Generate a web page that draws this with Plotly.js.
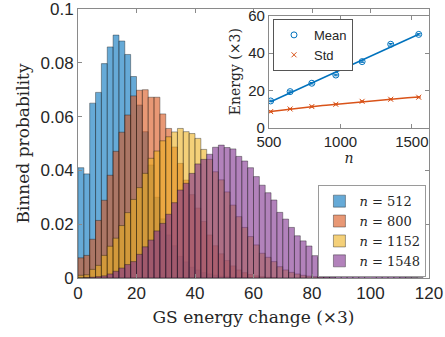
<!DOCTYPE html>
<html><head><meta charset="utf-8">
<script src="https://cdn.plot.ly/plotly-3.0.1.min.js"></script>
<style>html,body{margin:0;padding:0;background:#fff}#plot{width:445px;height:337px}</style>
</head><body><div id="plot"></div>
<script>
// ---- histogram data (binned probability, bins of width 2 starting at 0) ----
const binStart = 0;
const binWidth = 2;
const seriesNames = ['512', '800', '1152', '1548'];
const p512 = [0.041,0.0387,0.065,0.069,0.0797,0.0859,0.0903,0.0881,0.0831,0.0749,
  0.0643,0.0544,0.042,0.030,0.022,0.016,0.012,0.008,0.006,0.004,
  0.003,0.002,0.0015,0.001,0.0007,0.0005,0.0003,0.0002,0.0001,0.0001];
const p800 = [0.0075,0.0084,0.0144,0.0214,0.0289,0.0382,0.0471,0.0542,0.0606,0.0677,
  0.0698,0.0700,0.0672,0.0672,0.061,0.0556,0.0487,0.0426,0.0364,0.031,
  0.026,0.021,0.016,0.012,0.009,0.0065,0.0045,0.003,0.002,0.0013,
  0.0008,0.0005,0.0003,0.0002];
const p1152 = [0.001,0.0012,0.0032,0.0047,0.0084,0.0118,0.0148,0.0195,0.0243,0.0292,
  0.0336,0.0389,0.0445,0.0472,0.051,0.0525,0.0543,0.0556,0.0544,0.0537,
  0.0519,0.0478,0.0441,0.0395,0.0365,0.032,0.0271,0.0228,0.0188,0.0154,
  0.0123,0.0092,0.0077,0.0061,0.0042,0.003,0.0021,0.0015,0.001,0.0007,
  0.0005,0.0003,0.0002,0.0001];
const p1548 = [0,0.0002,0.0003,0.0005,0.0008,0.0015,0.0025,0.0037,0.005,0.0061,
  0.0088,0.0116,0.0141,0.0175,0.0203,0.0237,0.028,0.0327,0.0352,0.0389,
  0.0424,0.0441,0.046,0.0486,0.0494,0.0485,0.048,0.0452,0.0435,0.041,
  0.0377,0.0345,0.0317,0.029,0.0244,0.0219,0.0188,0.0157,0.0138,0.0119,
  0.0083,0.0077,0.0065,0.0055,0.0046,0.0038,0.0031,0.0025,0.002,0.0016,
  0.0013,0.001,0.0008,0.0006,0.0005,0.0004,0.0003,0.0002,0.0001];

// ---- inset data ----
const nVals = [512, 648, 800, 968, 1152, 1352, 1548];
const meanE = [14.3, 19.3, 23.8, 28.2, 35.4, 44.7, 50.0];
const meanErr = [0.4, 0.4, 0.4, 0.4, 0.4, 0.4, 0.4];
const stdE = [8.6, 10.0, 11.3, 12.5, 14.1, 15.2, 16.3];
const stdErr = [0.3, 0.3, 0.3, 0.3, 0.3, 0.3, 0.3];

const histSeries = [p512, p800, p1152, p1548];
const fillColors = ['rgba(0,114,189,0.6)','rgba(217,83,25,0.6)','rgba(237,177,32,0.6)','rgba(126,47,142,0.6)'];
const MBLUE = '#0072BD', MORANGE = '#D95319';
const serif = 'DejaVu Serif, serif';
const sans = 'Liberation Sans, Arial, sans-serif';
const axColor = '#8a8a8a';
const txtColor = '#262626';

const traces = [];
histSeries.forEach((vals, k) => {
  traces.push({
    type: 'bar',
    x: vals.map((_, i) => binStart + binWidth * (i + 0.5)),
    y: vals,
    width: binWidth,
    name: '<i>n</i> = ' + seriesNames[k],
    marker: {color: fillColors[k], line: {color: 'rgba(20,20,20,0.65)', width: 0.6}},
    legend: 'legend',
    hoverinfo: 'skip'
  });
});

// least-squares fits for inset
function linFit(xs, ys) {
  const n = xs.length;
  const mx = xs.reduce((a,b)=>a+b,0)/n, my = ys.reduce((a,b)=>a+b,0)/n;
  let sxy = 0, sxx = 0;
  for (let i=0;i<n;i++){ sxy += (xs[i]-mx)*(ys[i]-my); sxx += (xs[i]-mx)**2; }
  const b = sxy/sxx; return {a: my - b*mx, b: b};
}
const nMin = Math.min(...nVals), nMax = Math.max(...nVals);
const fitN = [];
for (let i = 0; i <= 40; i++) fitN.push(nMin + (nMax - nMin) * i / 40);
const lf = linFit(nVals, meanE);
const pf = linFit(nVals.map(Math.log), stdE.map(Math.log));

traces.push({type:'scatter', mode:'lines', x: fitN, y: fitN.map(n => lf.a + lf.b*n),
  xaxis:'x2', yaxis:'y2', line:{color: MBLUE, width:1.5}, showlegend:false, hoverinfo:'skip'});
traces.push({type:'scatter', mode:'lines', x: fitN, y: fitN.map(n => Math.exp(pf.a) * Math.pow(n, pf.b)),
  xaxis:'x2', yaxis:'y2', line:{color: MORANGE, width:1.5}, showlegend:false, hoverinfo:'skip'});
traces.push({type:'scatter', mode:'markers', x: nVals, y: meanE, name:'Mean',
  error_y:{type:'data', array: meanErr, color: MBLUE, thickness:1, width:2},
  xaxis:'x2', yaxis:'y2', legend:'legend2',
  marker:{symbol:'circle-open', size:6, color: MBLUE, line:{width:1}}});
traces.push({type:'scatter', mode:'markers', x: nVals, y: stdE, name:'Std',
  error_y:{type:'data', array: stdErr, color: MORANGE, thickness:1, width:2},
  xaxis:'x2', yaxis:'y2', legend:'legend2',
  marker:{symbol:'x-thin-open', size:5, color: MORANGE, line:{width:1, color: MORANGE}}});

const baseAxis = {
  showline: true, linecolor: axColor, linewidth: 1, mirror: 'ticks',
  ticks: 'inside', ticklen: 4, tickcolor: axColor, tickwidth: 1,
  showgrid: false, zeroline: false, ticklabeloverflow: 'allow',
  tickfont: {family: sans, size: 17, color: txtColor}
};

const layout = {
  width: 445, height: 337,
  margin: {l: 78, r: 16, t: 9, b: 59},
  paper_bgcolor: 'rgb(255,255,255)',
  plot_bgcolor: '#ffffff',
  barmode: 'overlay', bargap: 0,
  showlegend: true,
  xaxis: Object.assign({}, baseAxis, {range: [0, 120], tickvals: [0,20,40,60,80,100,120],
    title: {text: 'GS energy change (×3)', font: {family: serif, size: 17, color: txtColor}, standoff: 8}}),
  yaxis: Object.assign({}, baseAxis, {range: [0, 0.1], tickvals: [0,0.02,0.04,0.06,0.08,0.1],
    ticktext: ['0','0.02','0.04','0.06','0.08','0.1'],
    title: {text: 'Binned probability', font: {family: serif, size: 17, color: txtColor}, standoff: 6}}),
  xaxis2: Object.assign({}, baseAxis, {anchor: 'y2', domain: [0.544, 1], range: [500, 1620],
    tickvals: [500,1000,1500], tickfont: {family: sans, size: 15, color: txtColor},
    title: {text: '<i>n</i>', font: {family: serif, size: 14, color: txtColor}, standoff: 2}}),
  yaxis2: Object.assign({}, baseAxis, {anchor: 'x2', domain: [0.559, 0.975], range: [0, 60],
    tickvals: [0,20,40,60], tickfont: {family: sans, size: 15, color: txtColor},
    title: {text: 'Energy (×3)', font: {family: serif, size: 14, color: txtColor}, standoff: 4}}),
  legend: {x: 0.685, y: 0.345, xanchor: 'left', yanchor: 'top',
    bgcolor: '#ffffff', bordercolor: '#9a9a9a', borderwidth: 1,
    font: {family: serif, size: 13, color: txtColor}, tracegroupgap: 0},
  legend2: {x: 0.5556, y: 0.963, xanchor: 'left', yanchor: 'top',
    bgcolor: '#ffffff', bordercolor: '#555', borderwidth: 1,
    font: {family: sans, size: 13, color: txtColor}}
};

Plotly.newPlot('plot', traces, layout, {displayModeBar: false, staticPlot: true});
</script></body></html>
